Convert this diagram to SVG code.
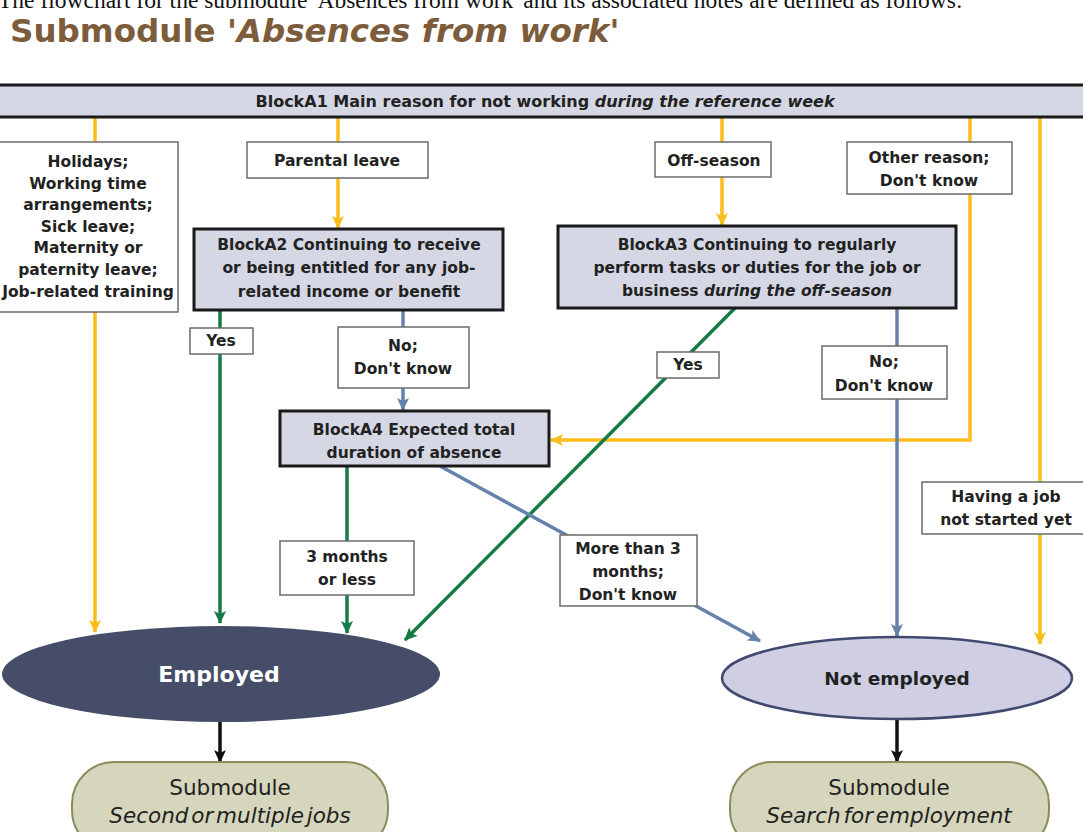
<svg xmlns="http://www.w3.org/2000/svg" width="1083" height="832" viewBox="0 0 1083 832">
<style>
.t{font-family:"DejaVu Sans","Verdana",sans-serif;font-weight:bold;font-size:15.5px;fill:#222;text-anchor:middle}
.blk{fill:#d5d8e4;stroke:#1a1a1a;stroke-width:3}
.lbl{fill:#fff;stroke:#6b6b6b;stroke-width:1.5}
.y{stroke:#fbbd18;stroke-width:3.5;fill:none}
.g{stroke:#157a46;stroke-width:3.5;fill:none}
.b{stroke:#6482aa;stroke-width:3.5;fill:none}
.k{stroke:#111;stroke-width:3.5;fill:none}
.sub{fill:#d6d6bd;stroke:#8b8b5c;stroke-width:2}
.st{font-family:"DejaVu Sans","Verdana",sans-serif;font-size:21.5px;fill:#222;text-anchor:middle}
</style>
<defs>
<marker id="ay" markerUnits="userSpaceOnUse" markerWidth="14" markerHeight="14" refX="12" refY="7" orient="auto"><path d="M0,1 L13,7 L0,13 L3,7 z" fill="#fbbd18"/></marker>
<marker id="ag" markerUnits="userSpaceOnUse" markerWidth="14" markerHeight="14" refX="12" refY="7" orient="auto"><path d="M0,1 L13,7 L0,13 L3,7 z" fill="#157a46"/></marker>
<marker id="ab" markerUnits="userSpaceOnUse" markerWidth="14" markerHeight="14" refX="12" refY="7" orient="auto"><path d="M0,1 L13,7 L0,13 L3,7 z" fill="#6482aa"/></marker>
<marker id="ak" markerUnits="userSpaceOnUse" markerWidth="14" markerHeight="14" refX="12" refY="7" orient="auto"><path d="M0,1 L13,7 L0,13 L3,7 z" fill="#111"/></marker>
</defs>
<rect width="1083" height="832" fill="#fff"/>
<text x="-2" y="8" font-family="Liberation Serif,serif" font-size="23.5" fill="#111">The flowchart for the submodule 'Absences from work' and its associated notes are defined as follows:</text>
<text x="10" y="42" font-family="DejaVu Sans,Verdana,sans-serif" font-weight="bold" font-size="32.5" fill="#7d5c3b">Submodule '<tspan font-style="italic">Absences from work'</tspan></text>

<g id="connectors">
<path class="y" d="M95,117 V632" marker-end="url(#ay)"/>
<path class="y" d="M338,117 V228" marker-end="url(#ay)"/>
<path class="y" d="M722,117 V225" marker-end="url(#ay)"/>
<path class="y" d="M970,117 V440 H551" marker-end="url(#ay)"/>
<path class="y" d="M1040,117 V644" marker-end="url(#ay)"/>
<path class="g" d="M220,310 V623" marker-end="url(#ag)"/>
<path class="g" d="M347,466 V633" marker-end="url(#ag)"/>
<path class="g" d="M735,308 L405,640" marker-end="url(#ag)"/>
<path class="b" d="M403,310 V410" marker-end="url(#ab)"/>
<path class="b" d="M897,308 V636" marker-end="url(#ab)"/>
<path class="b" d="M440,466 L760,641" marker-end="url(#ab)"/>
<path class="k" d="M220,722 V762" marker-end="url(#ak)"/>
<path class="k" d="M897,720 V762" marker-end="url(#ak)"/>
</g>

<g id="A1"><rect class="blk" x="-3" y="85" width="1089" height="32"/>
<text class="t" x="545" y="107" style="font-size:16px">BlockA1 Main reason for not working <tspan font-style="italic">during the reference week</tspan></text></g>

<g id="holidays"><rect class="lbl" x="-10" y="142" width="188" height="170"/>
<text class="t" x="88"><tspan x="88" y="167">Holidays;</tspan><tspan x="88" y="189">Working time</tspan><tspan x="88" y="210">arrangements;</tspan><tspan x="88" y="232">Sick leave;</tspan><tspan x="88" y="253">Maternity or</tspan><tspan x="88" y="275">paternity leave;</tspan><tspan x="88" y="297">Job-related training</tspan></text></g>

<g id="parental"><rect class="lbl" x="247" y="142" width="181" height="36"/><text class="t" x="337" y="166">Parental leave</text></g>
<g id="offseason"><rect class="lbl" x="655" y="142" width="116" height="35"/><text class="t" x="714" y="166">Off-season</text></g>
<g id="other"><rect class="lbl" x="847" y="142" width="165" height="52"/><text class="t"><tspan x="929" y="163">Other reason;</tspan><tspan x="929" y="186">Don't know</tspan></text></g>

<g id="A2"><rect class="blk" x="194" y="229" width="309" height="81"/>
<text class="t"><tspan x="349" y="250">BlockA2 Continuing to receive</tspan><tspan x="349" y="273">or being entitled for any job-</tspan><tspan x="349" y="297">related income or benefit</tspan></text></g>

<g id="A3"><rect class="blk" x="558" y="226" width="398" height="82"/>
<text class="t"><tspan x="757" y="250">BlockA3 Continuing to regularly</tspan><tspan x="757" y="273">perform tasks or duties for the job or</tspan><tspan x="757" y="296">business <tspan font-style="italic">during the off-season</tspan></tspan></text></g>

<g id="yes1"><rect class="lbl" x="190" y="328" width="63" height="26"/><text class="t" x="221" y="346">Yes</text></g>
<g id="no1"><rect class="lbl" x="338" y="327" width="131" height="61"/><text class="t"><tspan x="403" y="351">No;</tspan><tspan x="403" y="374">Don't know</tspan></text></g>
<g id="yes2"><rect class="lbl" x="657" y="352" width="62" height="26"/><text class="t" x="688" y="370">Yes</text></g>
<g id="no2"><rect class="lbl" x="822" y="346" width="125" height="53"/><text class="t"><tspan x="884" y="367">No;</tspan><tspan x="884" y="391">Don't know</tspan></text></g>

<g id="A4"><rect class="blk" x="280" y="411" width="269" height="55"/>
<text class="t"><tspan x="414" y="435">BlockA4 Expected total</tspan><tspan x="414" y="458">duration of absence</tspan></text></g>

<g id="havingjob"><rect class="lbl" x="922" y="482" width="165" height="52"/><text class="t"><tspan x="1006" y="502">Having a job</tspan><tspan x="1006" y="525">not started yet</tspan></text></g>
<g id="le3"><rect class="lbl" x="280" y="541" width="134" height="54"/><text class="t"><tspan x="347" y="562">3 months</tspan><tspan x="347" y="585">or less</tspan></text></g>
<g id="gt3"><rect class="lbl" x="560" y="535" width="137" height="71"/><text class="t"><tspan x="628" y="554">More than 3</tspan><tspan x="628" y="577">months;</tspan><tspan x="628" y="600">Don't know</tspan></text></g>

<g id="employed"><ellipse cx="221" cy="674" rx="219" ry="48" fill="#454d68"/>
<text class="t" x="219" y="682" style="font-size:22px;fill:#fff">Employed</text></g>
<g id="notemployed"><ellipse cx="897" cy="678" rx="175" ry="41" fill="#cfcee2" stroke="#3f4a6e" stroke-width="2.5"/>
<text class="t" x="897" y="685" style="font-size:18.5px">Not employed</text></g>

<g id="sub1"><rect class="sub" x="72" y="762" width="316" height="90" rx="42"/>
<text class="st"><tspan x="230" y="795">Submodule</tspan><tspan x="230" y="823" font-style="italic" word-spacing="-4">Second or multiple jobs</tspan></text></g>
<g id="sub2"><rect class="sub" x="730" y="762" width="319" height="90" rx="42"/>
<text class="st"><tspan x="889" y="795">Submodule</tspan><tspan x="889" y="823" font-style="italic" word-spacing="-4">Search for employment</tspan></text></g>
</svg>
